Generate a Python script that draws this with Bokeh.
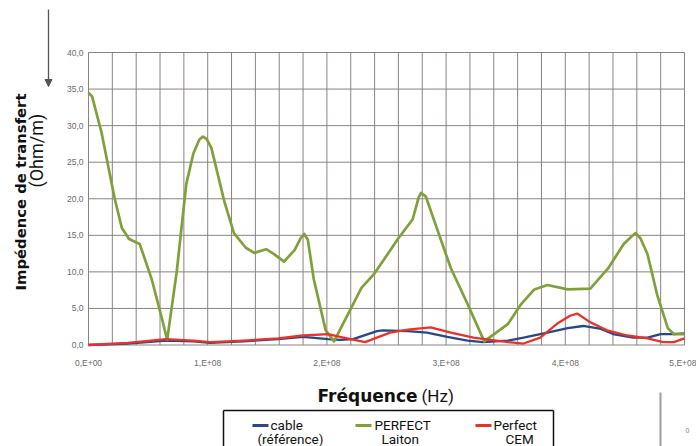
import math
from bokeh.plotting import figure
from bokeh.models import Range1d, FixedTicker, Arrow, NormalHead, LinearAxis
from bokeh.core.properties import value
from bokeh.embed import file_html
from bokeh.resources import INLINE

# ---------------- data ----------------
freq_green = [0.00e8, 0.03e8, 0.11e8, 0.22e8, 0.28e8, 0.34e8, 0.43e8, 0.53e8, 0.61e8, 0.66e8,
              0.74e8, 0.82e8, 0.88e8, 0.93e8, 0.96e8, 0.99e8, 1.03e8, 1.14e8, 1.22e8, 1.32e8,
              1.39e8, 1.49e8, 1.56e8, 1.64e8, 1.73e8, 1.78e8, 1.81e8, 1.84e8, 1.89e8, 1.99e8,
              2.06e8, 2.29e8, 2.40e8, 2.60e8, 2.72e8, 2.77e8, 2.79e8, 2.83e8, 2.93e8, 3.04e8,
              3.18e8, 3.32e8, 3.52e8, 3.63e8, 3.74e8, 3.85e8, 4.02e8, 4.21e8, 4.36e8, 4.49e8,
              4.56e8, 4.59e8, 4.63e8, 4.69e8, 4.77e8, 4.86e8, 4.91e8, 5.00e8]
z_green = [34.5, 34.0, 29.0, 20.0, 16.0, 14.5, 13.8, 9.0, 4.0, 0.7,
           10.0, 22.0, 26.2, 28.1, 28.5, 28.2, 27.0, 19.6, 15.3, 13.3,
           12.6, 13.1, 12.4, 11.4, 13.0, 14.6, 15.2, 14.4, 9.0, 2.0,
           0.5, 7.8, 9.8, 14.6, 17.2, 20.2, 20.8, 20.3, 15.6, 10.5,
           5.6, 0.5, 2.9, 5.6, 7.6, 8.2, 7.6, 7.7, 10.5, 13.8,
           14.9, 15.3, 14.6, 12.4, 6.9, 2.3, 1.5, 1.5]

freq_blue = [0.00e8, 0.33e8, 0.65e8, 0.88e8, 1.02e8, 1.30e8, 1.59e8, 1.80e8, 2.01e8, 2.11e8,
             2.22e8, 2.42e8, 2.47e8, 2.68e8, 2.84e8, 3.01e8, 3.18e8, 3.31e8, 3.52e8, 3.65e8,
             3.85e8, 4.02e8, 4.15e8, 4.30e8, 4.40e8, 4.57e8, 4.69e8, 4.80e8, 4.91e8, 5.00e8]
z_blue = [0.0, 0.2, 0.6, 0.5, 0.3, 0.5, 0.8, 1.1, 0.8, 0.7,
          0.8, 1.9, 2.0, 1.9, 1.7, 1.1, 0.6, 0.4, 0.6, 1.0,
          1.7, 2.3, 2.6, 2.2, 1.5, 1.0, 1.0, 1.5, 1.5, 1.6]

freq_red = [0.00e8, 0.33e8, 0.65e8, 0.88e8, 1.02e8, 1.30e8, 1.59e8, 1.80e8, 2.01e8, 2.11e8,
            2.32e8, 2.53e8, 2.68e8, 2.87e8, 3.04e8, 3.23e8, 3.37e8, 3.52e8, 3.65e8, 3.79e8,
            3.93e8, 4.04e8, 4.10e8, 4.21e8, 4.35e8, 4.52e8, 4.69e8, 4.82e8, 4.91e8, 5.00e8]
z_red = [0.0, 0.3, 0.8, 0.6, 0.4, 0.6, 0.9, 1.3, 1.5, 1.1,
         0.4, 1.7, 2.1, 2.4, 1.7, 1.0, 0.7, 0.4, 0.2, 1.0,
         2.9, 4.0, 4.3, 3.1, 2.0, 1.3, 0.9, 0.4, 0.4, 0.9]

x_ticks = [0, 100000000, 200000000, 300000000, 400000000, 500000000]
x_tick_labels = ["0,E+00", "1,E+08", "2,E+08", "3,E+08", "4,E+08", "5,E+08"]
y_ticks = [0, 5, 10, 15, 20, 25, 30, 35, 40]
y_tick_labels = ["0,0", "5,0", "10,0", "15,0", "20,0", "25,0", "30,0", "35,0", "40,0"]
x_grid_ticks = [i * 20000000 for i in range(26)]
x_min, x_max, y_min, y_max = 0, 500000000, 0, 40

series_names = [["cable", "(référence)"], ["PERFECT", "Laiton"], ["Perfect", "CEM"]]
colors = ["#284985", "#80a03c", "#e8332b"]

# ---------------- layout (canvas pixels) ----------------
W, H = 696, 446
FL, FR, FT, FB = 88, 684, 52, 344.5   # data area


def dx(cx):
    return x_min + (cx - FL) / (FR - FL) * (x_max - x_min)


def dy(cy):
    return y_min + (FB - cy) / (FB - FT) * (y_max - y_min)


p = figure(width=W, height=H, output_backend="svg", toolbar_location=None,
           x_range=Range1d(dx(0), dx(W)), y_range=Range1d(dy(H), dy(0)),
           x_axis_type=None, y_axis_type=None,
           min_border_left=0, min_border_right=0, min_border_top=0, min_border_bottom=0)
p.background_fill_color = "white"
p.border_fill_color = "white"
p.outline_line_color = None
p.grid.visible = False

grid_col = "#8b8380"
p.segment(x0=x_grid_ticks, y0=[y_min] * len(x_grid_ticks), x1=x_grid_ticks,
          y1=[y_max] * len(x_grid_ticks), line_color=grid_col, line_width=1)
p.segment(x0=[x_min] * len(y_ticks), y0=y_ticks, x1=[x_max] * len(y_ticks), y1=y_ticks,
          line_color=grid_col, line_width=1)

xax = LinearAxis(fixed_location=0, bounds=(x_min, x_max), ticker=FixedTicker(ticks=x_ticks))
xax.major_label_overrides = {t: l for t, l in zip(x_ticks, x_tick_labels)}
yax = LinearAxis(fixed_location=0, bounds=(y_min, y_max), ticker=FixedTicker(ticks=y_ticks))
yax.major_label_overrides = {t: l for t, l in zip(y_ticks, y_tick_labels)}
for ax in (xax, yax):
    ax.axis_line_color = None
    ax.major_tick_line_color = None
    ax.minor_tick_line_color = None
    ax.major_tick_out = 0
    ax.major_tick_in = 0
    ax.major_label_text_font = "Liberation Sans"
    ax.major_label_text_font_size = "8.5px"
    ax.major_label_text_color = "#6a6a6a"
xax.major_label_standoff = 13
yax.major_label_standoff = 5
p.add_layout(xax, "below")
p.add_layout(yax, "left")

# ---------------- lines ----------------
p.line(freq_blue, z_blue, line_color=colors[0], line_width=2.3, line_join="round")
p.line(freq_green, z_green, line_color=colors[1], line_width=2.7, line_join="round")
p.line(freq_red, z_red, line_color=colors[2], line_width=2.3, line_join="round")

# ---------------- texts ----------------
bold_font = value("DejaVu Sans")
light_font = value("Roboto")
ink = "#111111"

# rotated axis title, anchored at its bottom end
p.text(x=[dx(20)], y=[dy(290)], text=["Impédence de transfert"], angle=math.pi / 2,
       text_align="left", text_baseline="middle", text_font=bold_font,
       text_font_style="bold", text_font_size="14.8px", text_color=ink)
p.text(x=[dx(36)], y=[dy(187)], text=["(Ohm/m)"], angle=math.pi / 2,
       text_align="left", text_baseline="middle", text_font=light_font,
       text_font_size="18px", text_color=ink)

p.text(x=[dx(417)], y=[dy(395)], text=["Fréquence"], text_align="right",
       text_baseline="alphabetic", text_font=bold_font, text_font_style="bold",
       text_font_size="17px", text_color=ink)
p.text(x=[dx(421)], y=[dy(395)], text=["(Hz)"], text_align="left",
       text_baseline="alphabetic", text_font=light_font, text_font_size="17px", text_color=ink)

# top-left arrow
p.add_layout(Arrow(end=NormalHead(size=7, fill_color="#555555", line_color="#555555"),
                   x_start=dx(48), y_start=dy(9), x_end=dx(48), y_end=dy(86),
                   line_color="#555555", line_width=1.3))

# bottom-right fragment of a neighbouring chart
p.segment(x0=[dx(660)], y0=[dy(392)], x1=[dx(660)], y1=[dy(452)],
          line_color="#a09a98", line_width=2)
p.text(x=[dx(685)], y=[dy(430)], text=["0"], text_align="left", text_baseline="middle",
       text_font=value("Liberation Sans"), text_font_size="7px", text_color="#808080")

# legend box (bottom cut off by the window)
BL, BR, BT, BB = 223, 553, 410, 452
p.segment(x0=[dx(BL), dx(BL), dx(BR)], y0=[dy(BT), dy(BT), dy(BT)],
          x1=[dx(BR), dx(BL), dx(BR)], y1=[dy(BT), dy(BB), dy(BB)],
          line_color=ink, line_width=1.5)

dash_x = [252, 355, 475]
line1_x = [270, 374, 493]
line2_x = [257, 381, 505]
p.segment(x0=[dx(v) for v in dash_x], y0=[dy(425)] * 3,
          x1=[dx(v + 16) for v in dash_x], y1=[dy(425)] * 3,
          line_color=colors, line_width=3)
p.text(x=[dx(v) for v in line1_x], y=[dy(424)] * 3, text=[n[0] for n in series_names],
       text_align="left", text_baseline="middle", text_font=light_font,
       text_font_size="13.5px", text_color=ink)
p.text(x=[dx(v) for v in line2_x], y=[dy(438)] * 3, text=[n[1] for n in series_names],
       text_align="left", text_baseline="middle", text_font=light_font,
       text_font_size="13.5px", text_color=ink)

open("out.html", "w").write(file_html(p, INLINE))
